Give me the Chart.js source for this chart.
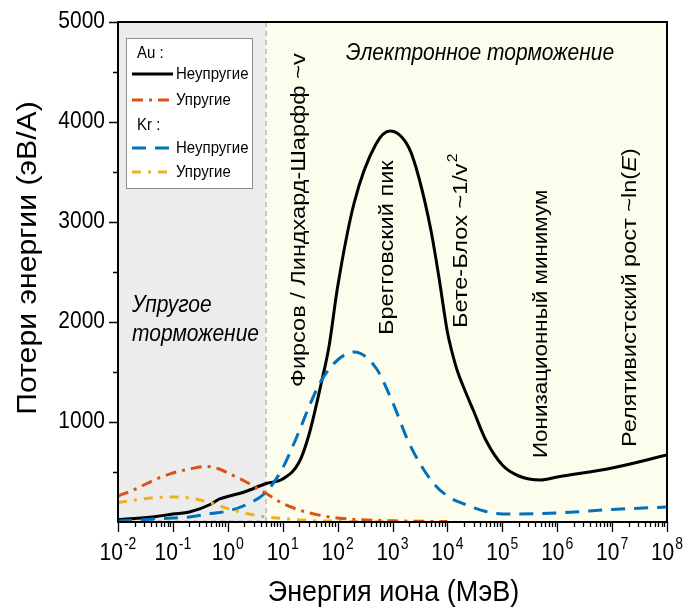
<!DOCTYPE html>
<html>
<head>
<meta charset="utf-8">
<script src="https://cdn.jsdelivr.net/npm/chart.js@4.4.1/dist/chart.umd.min.js"></script>
<style>
  html, body { margin: 0; padding: 0; background: #fff; }
  #wrap { width: 684px; height: 608px; }
</style>
</head>
<body>
<div id="wrap"><canvas id="chart" width="684" height="608"></canvas></div>
<script>
// Au, неупругие (электронное торможение)
const auInelE = [0.01, 0.02, 0.05, 0.1, 0.2, 0.5, 0.7, 1, 2, 5, 10, 20, 30, 50, 70, 100, 200, 500, 900, 2000, 3000, 5000, 7000, 1e4, 1.2e4, 1.5e4, 2e4, 3e4, 5e4, 1e5, 2e5, 5e5, 1e6, 1e7, 1e8];
const auInelLoss = [25, 35, 55, 80, 100, 180, 230, 255, 300, 385, 430, 600, 870, 1380, 1760, 2350, 3190, 3780, 3910, 3740, 3450, 2920, 2450, 1900, 1710, 1520, 1340, 1110, 820, 570, 460, 420, 450, 540, 670];

// Au, упругие (ядерное торможение)
const auElE = [0.01, 0.02, 0.05, 0.1, 0.2, 0.4, 0.7, 1, 2, 5, 10, 20, 50, 100, 1000, 1e4];
const auElLoss = [260, 325, 430, 490, 530, 555, 530, 490, 410, 285, 185, 120, 65, 40, 12, 4];

// Kr, неупругие
const krInelE = [0.01, 0.02, 0.05, 0.1, 0.2, 0.5, 1, 2, 5, 10, 20, 30, 50, 100, 200, 500, 1000, 2000, 5000, 1e4, 2e4, 5e4, 1e5, 1e6, 1e7, 1e8];
const krInelLoss = [10, 15, 30, 40, 50, 85, 110, 165, 300, 540, 910, 1150, 1410, 1620, 1700, 1540, 1200, 790, 420, 260, 180, 105, 80, 90, 125, 150];

// Kr, упругие
const krElE = [0.01, 0.02, 0.05, 0.1, 0.2, 0.5, 1, 2, 5, 10, 20, 100, 1000];
const krElLoss = [195, 220, 245, 250, 240, 190, 135, 90, 50, 35, 20, 8, 2];

const xExponents = [-2, -1, 0, 1, 2, 3, 4, 5, 6, 7, 8];
const yTickValues = [1000, 2000, 3000, 4000, 5000];
const yMinorValues = [500, 1500, 2500, 3500, 4500];
const regionSplit = 5;   // граница упругого / электронного торможения, МэВ

const FONT = "'Liberation Sans', Arial, sans-serif";
const STRETCH = 1.12;    // шрифт в оригинале немного вытянут по вертикали
const C_AU_IN = '#000000';
const C_AU_EL = '#D95319';
const C_KR_IN = '#0072BD';
const C_KR_EL = '#EDB120';

function pts(xs, ys) {
    return xs.map((x, i) => ({ x: x, y: ys[i] }));
}

const datasets = [
    { label: 'Au Упругие', data: pts(auElE, auElLoss), borderColor: C_AU_EL, borderWidth: 3, borderDash: [11, 6, 3, 6] },
    { label: 'Kr Упругие', data: pts(krElE, krElLoss), borderColor: C_KR_EL, borderWidth: 3, borderDash: [9, 7, 3, 7] },
    { label: 'Kr Неупругие', data: pts(krInelE, krInelLoss), borderColor: C_KR_IN, borderWidth: 3, borderDash: [14, 9] },
    { label: 'Au Неупругие', data: pts(auInelE, auInelLoss), borderColor: C_AU_IN, borderWidth: 3 }
];
datasets.forEach(d => {
    d.pointRadius = 0;
    d.fill = false;
    d.cubicInterpolationMode = 'monotone';
});

const backgroundPlugin = {
    id: 'regions',
    beforeDatasetsDraw(chart) {
        const { ctx, chartArea: a, scales: { x } } = chart;
        const xs = x.getPixelForValue(regionSplit);
        ctx.save();
        ctx.fillStyle = '#ececec';
        ctx.fillRect(a.left, a.top, xs - a.left, a.bottom - a.top);
        ctx.fillStyle = '#fdfdee';
        ctx.fillRect(xs, a.top, a.right - xs, a.bottom - a.top);
        ctx.strokeStyle = '#aaaaaa';
        ctx.lineWidth = 1.2;
        ctx.setLineDash([5, 4]);
        ctx.beginPath();
        ctx.moveTo(xs, a.top);
        ctx.lineTo(xs, a.bottom - 1);
        ctx.lineTo(a.left, a.bottom - 1);
        ctx.stroke();
        ctx.restore();
    }
};

// текст из кусков: {t, it, sup}; vertical — повёрнут на -90°
function drawText(ctx, parts, x, y, size, opts) {
    opts = opts || {};
    const supSize = Math.round(size * 0.66);
    let total = 0;
    parts.forEach(p => {
        ctx.font = (p.it ? 'italic ' : '') + (p.sup ? supSize : size) + 'px ' + FONT;
        p.w = ctx.measureText(p.t).width + (p.sup ? 1 : 0);
        total += p.w;
    });
    ctx.save();
    ctx.translate(x, y);
    if (opts.vertical) {
        ctx.rotate(-Math.PI / 2);
        ctx.scale(STRETCH, 1);
    } else {
        ctx.scale(1, STRETCH);
    }
    ctx.textAlign = 'left';
    ctx.textBaseline = 'middle';
    let off = 0;
    if (opts.align === 'center') off = -total / 2;
    else if (opts.align === 'right') off = -total;
    parts.forEach(p => {
        ctx.font = (p.it ? 'italic ' : '') + (p.sup ? supSize : size) + 'px ' + FONT;
        ctx.fillText(p.t, off + (p.sup ? 1 : 0), p.sup ? -size * 0.38 : 0);
        off += p.w;
    });
    ctx.restore();
}

const decorPlugin = {
    id: 'decor',
    afterDraw(chart) {
        const { ctx, chartArea: a, scales: { x, y } } = chart;
        ctx.save();
        ctx.fillStyle = '#000';
        ctx.strokeStyle = '#000';

        // рамка
        ctx.lineWidth = 2;
        ctx.strokeRect(a.left, a.top, a.right - a.left, a.bottom - a.top);

        // деления оси X
        ctx.lineWidth = 1.3;
        ctx.beginPath();
        xExponents.forEach(e => {
            const px = Math.round(x.getPixelForValue(Math.pow(10, e))) + 0.5;
            ctx.moveTo(px, a.bottom);
            ctx.lineTo(px, a.bottom + 10);
            if (e < 8) {
                for (let k = 2; k <= 9; k++) {
                    const pm = Math.round(x.getPixelForValue(k * Math.pow(10, e))) + 0.5;
                    ctx.moveTo(pm, a.bottom);
                    ctx.lineTo(pm, a.bottom + 5);
                }
            }
        });
        // деления оси Y
        yTickValues.forEach(v => {
            const py = Math.round(y.getPixelForValue(v)) + 0.5;
            ctx.moveTo(a.left, py);
            ctx.lineTo(a.left - 9, py);
        });
        yMinorValues.forEach(v => {
            const py = Math.round(y.getPixelForValue(v)) + 0.5;
            ctx.moveTo(a.left, py);
            ctx.lineTo(a.left - 5, py);
        });
        ctx.stroke();

        // подписи делений
        xExponents.forEach(e => {
            const px = x.getPixelForValue(Math.pow(10, e));
            drawText(ctx, [{ t: '10' }, { t: String(e), sup: true }], px, a.bottom + 32, 21, { align: 'center' });
        });
        yTickValues.forEach(v => {
            drawText(ctx, [{ t: String(v) }], a.left - 13, y.getPixelForValue(v), 21, { align: 'right' });
        });

        // названия осей
        drawText(ctx, [{ t: 'Энергия иона (МэВ)' }], (a.left + a.right) / 2 + 1, a.bottom + 71, 27, { align: 'center' });
        drawText(ctx, [{ t: 'Потери энергии (эВ/А)' }], 29, (a.top + a.bottom) / 2 - 14, 27, { align: 'center', vertical: true });

        // области
        drawText(ctx, [{ t: 'Электронное торможение', it: true }], 480, 53, 21, { align: 'center' });
        drawText(ctx, [{ t: 'Упругое', it: true }], 132, 305, 21);
        drawText(ctx, [{ t: 'торможение', it: true }], 132, 334, 21);

        // вертикальные подписи
        const V = { vertical: true };
        drawText(ctx, [{ t: 'Фирсов / Линдхард-Шарфф ~v' }], 299, 387, 21, V);
        drawText(ctx, [{ t: 'Брегговский пик' }], 387, 335, 21, V);
        drawText(ctx, [{ t: 'Бете-Блох ~1/v' }, { t: '2', sup: true }], 461, 328, 21, V);
        drawText(ctx, [{ t: 'Ионизационный минимум' }], 541, 458, 20, V);
        drawText(ctx, [{ t: 'Релятивистский рост ~ln(' }, { t: 'E', it: true }, { t: ')' }], 630, 447, 21, V);

        // легенда
        const lx = 126, ly = 38;
        ctx.fillStyle = '#ffffff';
        ctx.fillRect(lx, ly, 126, 150);
        ctx.strokeStyle = '#8c8c8c';
        ctx.lineWidth = 1;
        ctx.setLineDash([]);
        ctx.strokeRect(lx + 0.5, ly + 0.5, 126, 150);
        ctx.fillStyle = '#000';
        drawText(ctx, [{ t: 'Au :' }], lx + 11, ly + 15, 15);
        drawText(ctx, [{ t: 'Kr :' }], lx + 11, ly + 87, 15);
        const entries = [
            { ds: datasets[3], text: 'Неупругие', yy: ly + 36 },
            { ds: datasets[0], text: 'Упругие', yy: ly + 62 },
            { ds: datasets[2], text: 'Неупругие', yy: ly + 110 },
            { ds: datasets[1], text: 'Упругие', yy: ly + 134 }
        ];
        entries.forEach(en => {
            ctx.save();
            ctx.strokeStyle = en.ds.borderColor;
            ctx.lineWidth = 3;
            ctx.setLineDash(en.ds.borderDash || []);
            ctx.beginPath();
            ctx.moveTo(lx + 6, en.yy);
            ctx.lineTo(lx + 47, en.yy);
            ctx.stroke();
            ctx.restore();
            drawText(ctx, [{ t: en.text }], lx + 50, en.yy, 15);
        });

        ctx.restore();
    }
};

new Chart(document.getElementById('chart'), {
    type: 'line',
    data: { datasets: datasets },
    options: {
        responsive: false,
        animation: false,
        events: [],
        layout: { padding: { left: 118, right: 17, top: 22, bottom: 86 } },
        plugins: { legend: { display: false }, tooltip: { enabled: false } },
        scales: {
            x: { type: 'logarithmic', min: 0.01, max: 1e8, display: false },
            y: { type: 'linear', min: 0, max: 5000, display: false }
        }
    },
    plugins: [backgroundPlugin, decorPlugin]
});
</script>
</body>
</html>
